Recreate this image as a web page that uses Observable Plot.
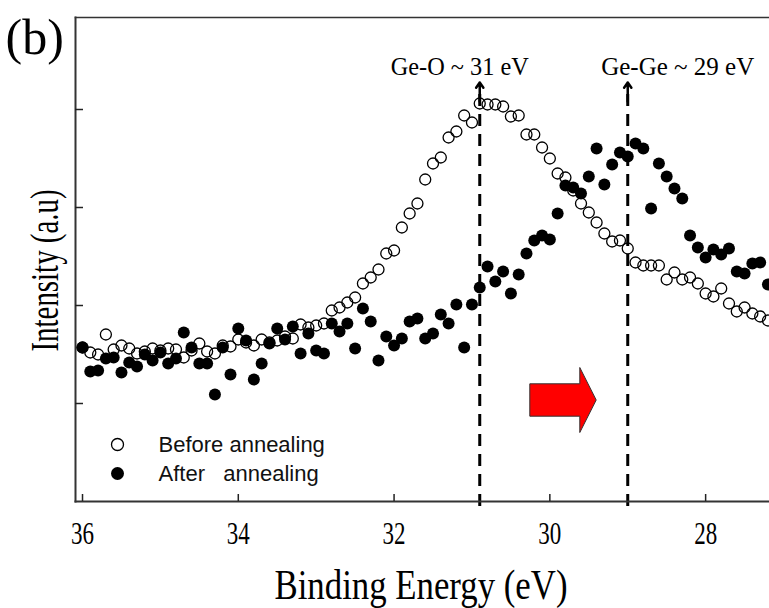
<!DOCTYPE html>
<html>
<head>
<meta charset="utf-8">
<script src="https://cdn.jsdelivr.net/npm/d3@7"></script>
<script src="https://cdn.jsdelivr.net/npm/@observablehq/plot@0.6"></script>
<style>
  html, body { margin: 0; padding: 0; background: #fff; }
  #chart svg { display: block; }
  #chart svg text { white-space: pre; }
</style>
</head>
<body>
<div id="chart"></div>
<script>
// Binding energy (eV)
const energy = [
  36.0,35.9,35.8,35.7,35.6,35.5,35.4,35.3,35.2,35.1,
  35.0,34.9,34.8,34.7,34.6,34.5,34.4,34.3,34.2,34.1,
  34.0,33.9,33.8,33.7,33.6,33.5,33.4,33.3,33.2,33.1,
  33.0,32.9,32.8,32.7,32.6,32.5,32.4,32.3,32.2,32.1,
  32.0,31.9,31.8,31.7,31.6,31.5,31.4,31.3,31.2,31.1,
  31.0,30.9,30.8,30.7,30.6,30.5,30.4,30.3,30.2,30.1,
  30.0,29.9,29.8,29.7,29.6,29.5,29.4,29.3,29.2,29.1,
  29.0,28.9,28.8,28.7,28.6,28.5,28.4,28.3,28.2,28.1,
  28.0,27.9,27.8,27.7,27.6,27.5,27.4,27.3,27.2
];
// Intensity (a.u.), before annealing (open circles)
const beforeAnnealing = [
  154,149,147,167,152,156,153,148,150,153,
  151,153,152,144,151,158,150,148,156,155,
  162,159,156,162,159,161,165,163,177,174,
  176,178,191,194,199,204,218,224,232,248,
  251,274,288,298,322,338,344,364,370,386,
  379,398,397,397,395,385,386,367,367,354,
  343,328,324,311,298,289,279,268,260,261,
  253,239,236,236,236,222,229,222,224,218,
  208,205,213,198,190,194,188,185,181
];
// Intensity (a.u.), after annealing (filled circles)
const afterAnnealing = [
  154,130,131,143,144,129,139,135,147,141,
  149,138,143,169,154,138,138,107,154,127,
  173,161,122,138,158,173,162,175,148,168,
  151,148,178,170,178,153,193,180,141,165,
  156,163,180,183,163,168,187,178,197,154,
  197,214,235,220,230,208,227,248,261,266,
  262,288,316,314,308,325,353,317,337,349,
  345,358,353,293,338,325,313,303,266,254,
  244,252,247,253,230,228,238,239,217
];
const xTicks = [36, 34, 32, 30, 28];
const yTicks = [98, 196, 294, 392];
const peakEnergies = [30.9, 29.0];
const peakLabels = ["Ge-O ~ 31 eV", "Ge-Ge ~ 29 eV"];
const legendLabels = ["Before annealing", "After   annealing"];
const panelLabel = "(b)";
const xLabel = "Binding Energy (eV)";
const yLabel = "Intensity (a.u)";

const rows = energy.map((e, i) => ({energy: e, before: beforeAnnealing[i], after: afterAnnealing[i]}));
const peaks = peakEnergies.map((e, i) => ({energy: e, label: peakLabels[i]}));

const serif = "'Liberation Serif', 'Times New Roman', serif";
const sans = "'Liberation Sans', Arial, sans-serif";

// block arrow symbol (red shift arrow)
const blockArrow = {
  draw(ctx) {
    ctx.moveTo(-33.2, -16.2);
    ctx.lineTo(16.8, -16.2);
    ctx.lineTo(16.8, -32.5);
    ctx.lineTo(33.2, 0);
    ctx.lineTo(16.8, 32.5);
    ctx.lineTo(16.8, 16.2);
    ctx.lineTo(-33.2, 16.2);
    ctx.closePath();
  }
};

const arrowTop = 419;   // a.u. level of arrow tips
const labelLevel = 435; // a.u. level of peak labels

const svg = Plot.plot({
  width: 769,
  height: 608,
  marginLeft: 75,
  marginRight: 0,
  marginTop: 17,
  marginBottom: 107,
  style: {fontFamily: serif, background: "#fff", color: "#000"},
  x: {domain: [36.09, 27.18]},
  y: {domain: [0, 484]},
  marks: [
    // dashed guide lines
    Plot.ruleX(peaks, {x: "energy", y1: -5, y2: 408, stroke: "#000", strokeWidth: 3, strokeDasharray: "12,8"}),
    Plot.arrow(peaks, {x: "energy", y1: 400, y2: arrowTop, stroke: "#000", strokeWidth: 2.5, headLength: 11, headAngle: 70}),
    // frame
    Plot.frame({anchor: "left", stroke: "#333", strokeWidth: 2}),
    Plot.frame({anchor: "bottom", stroke: "#333", strokeWidth: 2}),
    Plot.frame({anchor: "top", stroke: "#333", strokeWidth: 1.5}),
    // axes (inward ticks)
    Plot.axisY({ticks: yTicks, tickSize: -8, tickFormat: () => "", label: null, strokeWidth: 1.5, stroke: "#222"}),
    Plot.axisX({ticks: xTicks, tickSize: -7, tickPadding: 27, label: null, fontSize: 31, strokeWidth: 1.5, stroke: "#222", fill: "#000"}),
    // data
    Plot.dot(rows, {x: "energy", y: "before", r: 5.5, stroke: "#000", strokeWidth: 1.3, fill: "none"}),
    Plot.dot(rows, {x: "energy", y: "after", r: 6, fill: "#000", stroke: "none"}),
    // peak labels
    Plot.text(peaks, {filter: (d, i) => i === 0, x: "energy", y: labelLevel, text: "label", textAnchor: "middle", lineAnchor: "middle", dx: -20, fontSize: 25, fill: "#000"}),
    Plot.text(peaks, {filter: (d, i) => i === 1, x: "energy", y: labelLevel, text: "label", textAnchor: "middle", lineAnchor: "middle", dx: 50, fontSize: 25, fill: "#000"}),
    // legend
    Plot.dot([0], {frameAnchor: "bottom-left", dx: 42, dy: -57, r: 6, stroke: "#000", strokeWidth: 1.3, fill: "none"}),
    Plot.dot([0], {frameAnchor: "bottom-left", dx: 42, dy: -28, r: 6.5, fill: "#000"}),
    Plot.text([legendLabels[0]], {frameAnchor: "bottom-left", dx: 83, dy: -57, textAnchor: "start", lineAnchor: "middle", fontSize: 22, fontFamily: sans, fill: "#111"}),
    Plot.text([legendLabels[1]], {frameAnchor: "bottom-left", dx: 83, dy: -28, textAnchor: "start", lineAnchor: "middle", fontSize: 22, fontFamily: sans, fill: "#111"}),
    // red shift arrow
    Plot.dot([0], {frameAnchor: "bottom-left", dx: 487.5, dy: -101.5, symbol: blockArrow, fill: "#ff0000", stroke: "#333", strokeWidth: 1}),
    // titles
    Plot.text([panelLabel], {frameAnchor: "top-left", dx: -70, dy: 20, textAnchor: "start", lineAnchor: "middle", fontSize: 50, fill: "#000"}),
    Plot.text([xLabel], {frameAnchor: "bottom", dx: -1.5, dy: 84, textAnchor: "middle", lineAnchor: "middle", fontSize: 42, fill: "#000"}),
    Plot.text([yLabel], {frameAnchor: "left", rotate: -90, dx: -30, dy: 11, textAnchor: "middle", lineAnchor: "middle", fontSize: 40, fill: "#000"})
  ]
});

document.getElementById("chart").append(svg);

// serif face for every text except the legend, condensed widths as in the original figure
const root = d3.select(svg);
root.selectAll('g[aria-label="x-axis tick label"]').attr("font-family", serif).attr("font-variant", null);
root.selectAll("text").filter(function () { return !legendLabels.includes(this.textContent); })
  .attr("font-family", serif).style("font-family", serif);
const fitWidths = new Map([[xLabel, 293], [yLabel, 162], [peakLabels[0], 138]]);
root.selectAll("text").each(function () {
  const w = fitWidths.get(this.textContent);
  if (w) d3.select(this).attr("textLength", w).attr("lengthAdjust", "spacingAndGlyphs");
});
root.selectAll('g[aria-label="x-axis tick label"] text')
  .attr("textLength", 23).attr("lengthAdjust", "spacingAndGlyphs");
</script>
</body>
</html>
